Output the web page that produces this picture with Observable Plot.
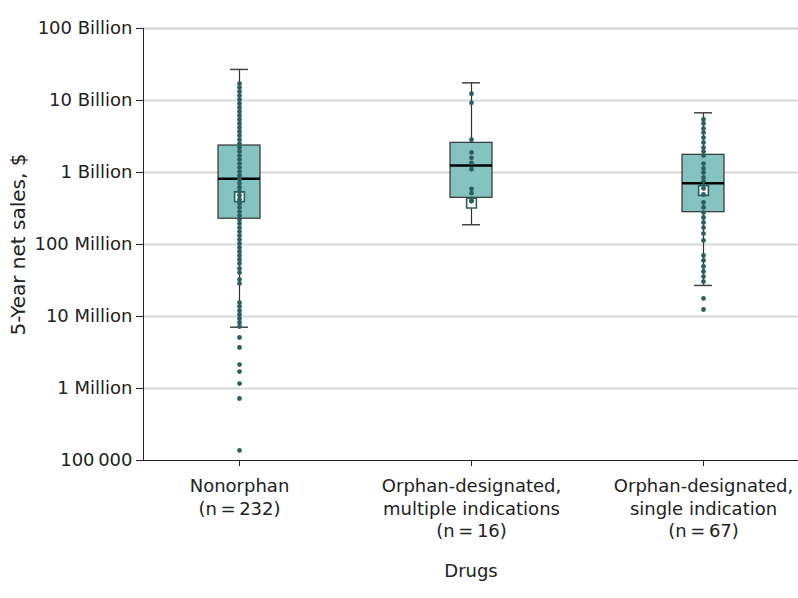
<!DOCTYPE html>
<html><head><meta charset="utf-8">
<script src="https://cdn.jsdelivr.net/npm/d3@7"></script>
<script src="https://cdn.jsdelivr.net/npm/@observablehq/plot@0.6"></script>
<style>body{margin:0;background:#fff}</style>
</head><body><div id="chart"></div>
<script>
const categories = [
  "Nonorphan\n(n\u2009=\u2009232)",
  "Orphan-designated,\nmultiple indications\n(n\u2009=\u200916)",
  "Orphan-designated,\nsingle indication\n(n\u2009=\u200967)"
];
// 5-year net sales, $ (visible points)
const nonorphanSales = [
  17.2e9, 15.2e9, 13.3e9, 11.7e9, 10.3e9, 9.09e9, 7.99e9, 7.03e9, 6.19e9, 5.45e9,
  4.79e9, 4.22e9, 3.71e9, 3.27e9, 2.87e9, 2.53e9, 2.22e9, 1.96e9, 1.72e9, 1.52e9,
  1.33e9, 1.17e9, 1.03e9, 909e6, 799e6, 703e6, 619e6, 545e6, 479e6, 422e6,
  371e6, 327e6, 287e6, 253e6, 222e6, 196e6, 172e6, 152e6, 133e6, 117e6,
  103e6, 90.9e6, 79.9e6, 70.3e6, 61.9e6, 54.5e6, 46.4e6, 40.8e6, 32.7e6, 28.7e6,
  15.6e6, 13.8e6, 12.1e6, 10.7e6, 9.38e6, 8.25e6, 7.26e6,
  5.11e6, 3.71e6, 2.15e6, 1.72e6, 1.17e6, 0.726e6, 0.138e6
];
const multipleSales = [
  12.4e9, 9.29e9, 2.85e9, 1.90e9, 1.60e9, 1.36e9, 1.11e9, 593e6, 516e6, 409e6, 398e6
];
const singleSales = [
  5.45e9, 4.79e9, 4.08e9, 3.59e9, 3.06e9, 2.61e9, 2.22e9, 1.96e9, 1.72e9, 1.33e9,
  1.14e9, 1.00e9, 852e6, 750e6, 600e6, 495e6, 383e6, 327e6, 278e6, 237e6,
  202e6, 172e6, 142e6, 114e6, 70.3e6, 60.0e6, 49.5e6, 42.2e6, 35.9e6, 30.6e6,
  17.8e6, 12.5e6
];
// box summaries per category
const boxLow    = [7.1e6, 188e6, 27e6];
const boxQ1     = [228e6, 445e6, 281e6];
const boxMedian = [818e6, 1.25e9, 711e6];
const boxQ3     = [2.37e9, 2.58e9, 1.76e9];
const boxHigh   = [27e9, 17.6e9, 6.75e9];
const boxMean   = [460e6, 375e6, 562e6];
// y axis ticks
const yTicks = [1e5, 1e6, 1e7, 1e8, 1e9, 1e10, 1e11];
const yTickLabels = ["100\u2009000", "1 Million", "10 Million", "100 Million", "1 Billion", "10 Billion", "100 Billion"];

const seriesList = [nonorphanSales, multipleSales, singleSales];
const points = seriesList.flatMap((arr, i) => arr.map(v => ({cat: categories[i], v})));
const boxes = categories.map((c, i) => ({
  cat: c, low: boxLow[i], q1: boxQ1[i], median: boxMedian[i], q3: boxQ3[i], high: boxHigh[i], mean: boxMean[i]
}));

const dark = "#2b5e60";
const chart = Plot.plot({
  width: 798,
  height: 598,
  marginTop: 28,
  marginBottom: 138,
  marginLeft: 143,
  marginRight: 0,
  style: {fontFamily: "'DejaVu Sans', sans-serif", fontSize: "18px", color: "#222", background: "#fff", overflow: "visible"},
  x: {type: "band", domain: categories, paddingInner: 0.819, paddingOuter: 0.321},
  y: {type: "log", domain: [1e5, 1e11]},
  marks: [
    Plot.ruleY(yTicks.slice(1), {stroke: "#d8d8d8", strokeWidth: 2}),
    Plot.frame({anchor: "top", stroke: "#d8d8d8", strokeWidth: 2}),
    Plot.frame({anchor: "left", stroke: "#222"}),
    Plot.frame({anchor: "bottom", stroke: "#222"}),
    Plot.ruleX(boxes, {x: "cat", y1: "low", y2: "high", stroke: "#333", strokeWidth: 1.2}),
    Plot.tickY(boxes, {x: "cat", y: "low", insetLeft: 12, insetRight: 12, stroke: "#444", strokeWidth: 1.5}),
    Plot.tickY(boxes, {x: "cat", y: "high", insetLeft: 12, insetRight: 12, stroke: "#444", strokeWidth: 1.5}),
    Plot.barY(boxes, {x: "cat", y1: "q1", y2: "q3", fill: "#85c3c1", stroke: "#333", strokeWidth: 1.2}),
    Plot.tickY(boxes, {x: "cat", y: "median", stroke: "#000", strokeWidth: 2.5}),
    Plot.dot(boxes, {x: "cat", y: "mean", symbol: "square", r: 5.5, fill: "#fff", stroke: dark, strokeWidth: 1.6}),
    Plot.dot(points, {x: "cat", y: "v", r: 2.4, fill: dark}),
    Plot.axisY(yTicks, {
      tickFormat: d => yTickLabels[yTicks.indexOf(d)],
      tickSize: 7, tickPadding: 4, fontSize: 18,
      label: null
    }),
    Plot.text(["5-Year net sales, $"], {
      frameAnchor: "left", dx: -125, rotate: -90, fontSize: 20, fill: "#222", textAnchor: "middle"
    }),
    Plot.axisX({
      tickSize: 6, tickPadding: 10, fontSize: 18, lineHeight: 1.25,
      label: "Drugs", labelAnchor: "center", labelArrow: "none", labelOffset: 116
    })
  ]
});
document.getElementById("chart").appendChild(chart);
</script>
</body></html>
